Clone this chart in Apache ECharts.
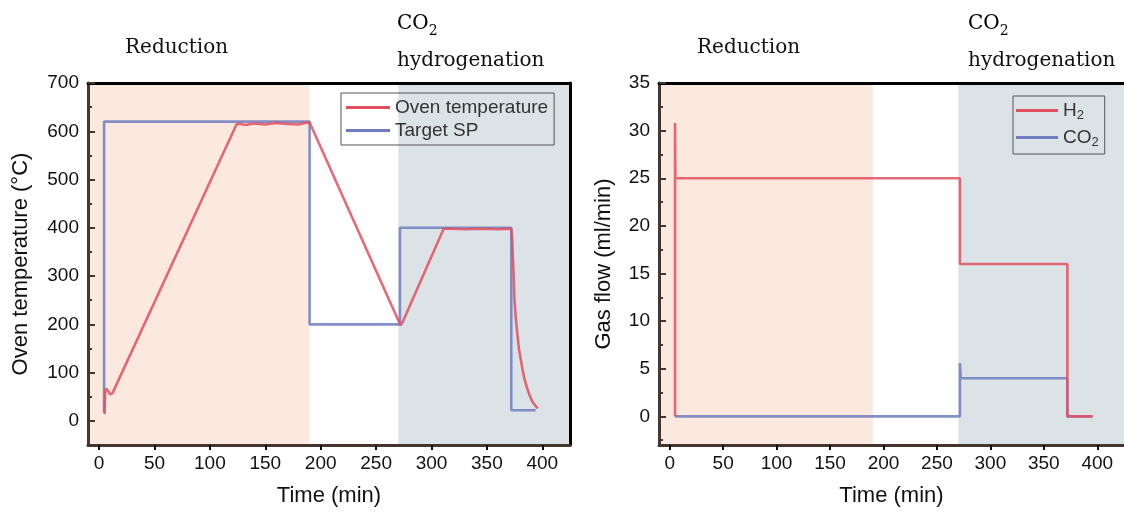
<!DOCTYPE html>
<html>
<head>
<meta charset="utf-8">
<script src="https://cdn.jsdelivr.net/npm/echarts@6/dist/echarts.min.js"></script>
<style>
  html, body { margin: 0; padding: 0; background: #fff; }
  #chart { width: 1124px; height: 512px; }
</style>
</head>
<body>
<div id="chart"></div>
<script>
// ---- Oven temperature programme (°C vs min) ----
const ovenTime = [5, 5.5, 6.5, 8, 10, 12, 124, 126, 132, 140, 150, 160, 170, 180, 188, 190,
                  272, 274, 311, 316, 330, 345, 360, 372, 372.6, 373, 373.5, 374, 374.8, 376, 377.8, 379,
                  380.8, 382, 383.9, 386, 388.5, 391, 394.6, 396];
const ovenTemp = [14, 62, 67, 62, 55, 57, 614, 616, 613, 616, 614, 617, 615, 614, 618, 618,
                  198, 205, 398, 398, 397, 398, 397, 398, 385, 370, 337, 310, 255, 215, 172, 148,
                  125, 108, 87, 70, 53, 40, 29, 26];

const spTime = [4.5, 4.5, 190, 190, 271.5, 271.5, 372, 372, 394];
const spTemp = [18, 620, 620, 200, 200, 400, 400, 22, 22];

// ---- Gas flows (ml/min vs min) ----
const h2Time = [5, 5, 5.3, 271.5, 271.5, 372, 372, 396];
const h2Flow = [0, 30.8, 25, 25, 16, 16, 0, 0];

const co2Time = [5, 271.5, 271.5, 272.3, 372, 372, 394];
const co2Flow = [0, 0, 5.6, 4, 4, 0, 0];

// ---- Process stages and ticks ----
const reductionSpan = [-10, 190];
const hydrogenationSpan = [270, 425];
const timeTicks = [0, 50, 100, 150, 200, 250, 300, 350, 400];
const tempTicks = [0, 100, 200, 300, 400, 500, 600, 700];
const tempMinorTicks = [-50, 50, 150, 250, 350, 450, 550, 650];
const flowTicks = [0, 5, 10, 15, 20, 25, 30, 35];
const flowMinorTicks = [-2.5, 2.5, 7.5, 12.5, 17.5, 22.5, 27.5, 32.5];

const pairs = (xs, ys) => xs.map((x, i) => [x, ys[i]]);

const RED = '#e2505f';
const BLUE = '#6f7cc0';
const AXIS = '#45372f';
const SANS = '"Liberation Sans", Arial, sans-serif';
const SERIF = '"DejaVu Serif", "Liberation Serif", serif';

function bottomAxis(gridIndex) {
  return {
    type: 'value', gridIndex, min: -10, max: 425, z: 5,
    name: 'Time (min)', nameLocation: 'middle', nameGap: 40,
    nameTextStyle: { fontFamily: SANS, fontSize: 22, color: '#111' },
    axisLine: { show: true, onZero: false, lineStyle: { color: AXIS, width: 3 } },
    axisTick: { show: true, inside: false, length: 5, customValues: timeTicks, lineStyle: { color: '#111', width: 2 } },
    axisLabel: { customValues: timeTicks, fontFamily: SANS, fontSize: 19, color: '#111', margin: 9 },
    splitLine: { show: false }
  };
}
function topAxis(gridIndex) {
  return {
    type: 'value', gridIndex, min: -10, max: 425, position: 'top', z: 5,
    axisLine: { show: true, onZero: false, lineStyle: { color: '#000', width: 3 } },
    axisTick: { show: false }, axisLabel: { show: false }, splitLine: { show: false }
  };
}
function leftAxis(gridIndex, min, max, major, minor, name, nameGap) {
  return [
    {
      type: 'value', gridIndex, min, max, z: 5,
      name, nameLocation: 'middle', nameGap,
      nameTextStyle: { fontFamily: SANS, fontSize: 22, color: '#111' },
      axisLine: { show: true, onZero: false, lineStyle: { color: AXIS, width: 3 } },
      axisTick: { show: true, inside: true, length: 7, customValues: major, lineStyle: { color: AXIS, width: 2 } },
      axisLabel: { customValues: major, fontFamily: SANS, fontSize: 19, color: '#111', margin: 9 },
      splitLine: { show: false }
    },
    {
      // short intermediate ticks on the same left edge
      type: 'value', gridIndex, min, max, position: 'left', z: 5,
      axisLine: { show: false, onZero: false },
      axisTick: { show: true, inside: true, length: 4, customValues: minor, lineStyle: { color: AXIS, width: 2 } },
      axisLabel: { show: false }, splitLine: { show: false }
    }
  ];
}

const stageArea = (gridIdx) => ({
  type: 'line', xAxisIndex: gridIdx * 2, yAxisIndex: gridIdx * 3, data: [], z: 1, silent: true,
  markArea: {
    silent: true,
    data: [
      [{ xAxis: reductionSpan[0], itemStyle: { color: '#fbe8de' } }, { xAxis: reductionSpan[1] }],
      [{ xAxis: hydrogenationSpan[0], itemStyle: { color: '#dce3e7' } }, { xAxis: hydrogenationSpan[1] }]
    ]
  }
});

const lineSeries = (name, data, color, xi, yi) => ({
  name, type: 'line', data, xAxisIndex: xi, yAxisIndex: yi, z: 3,
  showSymbol: false, symbol: 'none', animation: false,
  lineStyle: { color, width: 2.6, opacity: 0.85 }, itemStyle: { color }
});

const subRich = {
  a: { fontFamily: SERIF, fontSize: 20, color: '#111' },
  s: { fontFamily: SERIF, fontSize: 14, color: '#111', padding: [14, 0, 0, 0] }
};

function stageLabels(redX, co2X) {
  return [
    { type: 'text', left: redX, top: 38, style: { text: 'Reduction', font: '20px ' + SERIF, fill: '#111' } },
    { type: 'text', left: co2X, top: 14, style: { text: '{a|CO}{s|2}', rich: subRich } },
    { type: 'text', left: co2X, top: 51, style: { text: 'hydrogenation', font: '20px ' + SERIF, fill: '#111' } }
  ];
}

const chart = echarts.init(document.getElementById('chart'), null, { renderer: 'canvas' });
chart.setOption({
  animation: false,
  backgroundColor: '#fff',
  grid: [
    { left: 88, top: 83, right: 554, bottom: 65 },
    { left: 659, top: 83, right: -12, bottom: 65 }
  ],
  xAxis: [bottomAxis(0), topAxis(0), bottomAxis(1), topAxis(1)],
  yAxis: [
    ...leftAxis(0, -50, 700, tempTicks, tempMinorTicks, 'Oven temperature (°C)', 56),
    {
      type: 'value', gridIndex: 0, min: -50, max: 700, position: 'right', z: 5,
      axisLine: { show: true, onZero: false, lineStyle: { color: '#000', width: 3 } },
      axisTick: { show: false }, axisLabel: { show: false }, splitLine: { show: false }
    },
    ...leftAxis(1, -3, 35, flowTicks, flowMinorTicks, 'Gas flow (ml/min)', 44)
  ],
  legend: [
    {
      data: ['Oven temperature', 'Target SP'], orient: 'vertical',
      left: 341, top: 93, padding: [5, 6, 5, 5], itemGap: 4,
      itemWidth: 44, itemHeight: 3, icon: 'rect',
      borderColor: '#555', borderWidth: 1,
      textStyle: { fontFamily: SANS, fontSize: 19, color: '#333' }
    },
    {
      data: ['H2', 'CO2'], orient: 'vertical',
      left: 1013, top: 96, padding: [5, 6, 5, 3], itemGap: 6,
      itemWidth: 42, itemHeight: 3, icon: 'rect',
      borderColor: '#555', borderWidth: 1,
      formatter: n => n === 'H2' ? '{a|H}{s|2}' : '{a|CO}{s|2}',
      textStyle: {
        fontFamily: SANS, fontSize: 19, color: '#333',
        rich: {
          a: { fontFamily: SANS, fontSize: 19, color: '#333' },
          s: { fontFamily: SANS, fontSize: 13, color: '#333', padding: [10, 0, 0, 0] }
        }
      }
    }
  ],
  graphic: [...stageLabels(125, 397), ...stageLabels(697, 968)],
  series: [
    stageArea(0),
    stageArea(1),
    lineSeries('Target SP', pairs(spTime, spTemp), BLUE, 0, 0),
    lineSeries('Oven temperature', pairs(ovenTime, ovenTemp), RED, 0, 0),
    lineSeries('CO2', pairs(co2Time, co2Flow), BLUE, 2, 3),
    lineSeries('H2', pairs(h2Time, h2Flow), RED, 2, 3)
  ]
});
</script>
</body>
</html>
